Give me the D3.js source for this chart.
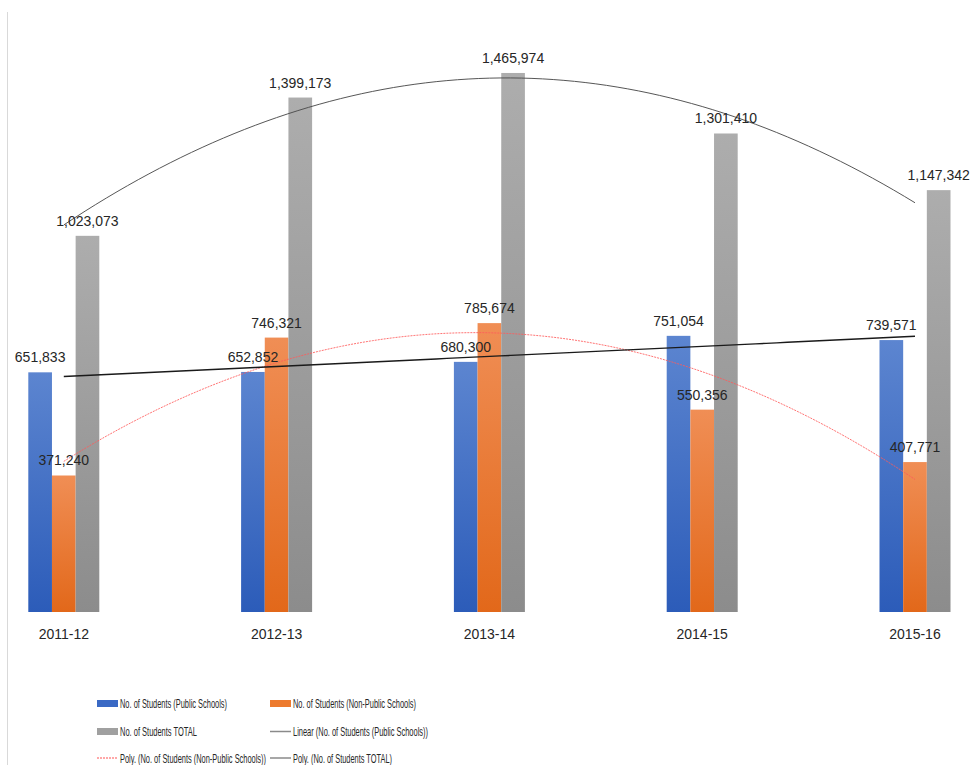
<!DOCTYPE html>
<html>
<head>
<meta charset="utf-8">
<script src="https://cdn.jsdelivr.net/npm/d3@7"></script>
<style>
  html, body { margin: 0; padding: 0; background: #fff; }
  svg { display: block; }
  text { font-family: "Liberation Sans", Arial, sans-serif; fill: #262626; }
</style>
</head>
<body>
<svg id="chart" width="972" height="765"></svg>
<script>
// School years on the category axis
const years = ["2011-12", "2012-13", "2013-14", "2014-15", "2015-16"];
// Enrolment per school year
const publicStudents    = [651833, 652852, 680300, 751054, 739571];
const nonPublicStudents = [371240, 746321, 785674, 550356, 407771];
const totalStudents     = [1023073, 1399173, 1465974, 1301410, 1147342];

const seriesNames = [
  "No. of Students (Public Schools)",
  "No. of Students (Non-Public Schools)",
  "No. of Students TOTAL"
];
const trendNames = [
  "Linear (No. of Students (Public Schools))",
  "Poly. (No. of Students (Non-Public Schools))",
  "Poly. (No. of Students TOTAL)"
];

const svg = d3.select("#chart");
const W = 972, H = 765;

// thin frame line on the left edge
svg.append("line")
  .attr("x1", 7.5).attr("x2", 7.5).attr("y1", 12).attr("y2", H)
  .attr("stroke", "#d9d9d9").attr("stroke-width", 1);

// scales
const x = d3.scalePoint().domain(years).range([63.8, 915]);
const xi = d3.scaleLinear().domain([0, years.length - 1]).range([63.8, 915]);
const inner = d3.scaleBand().domain([0, 1, 2]).range([-35.5, 35.5]);
const y = d3.scaleLinear().domain([0, 1600000]).range([612, 23.7]);

// bar gradients
const defs = svg.append("defs");
const grads = [
  { id: "gBlue",   top: "#5c85d0", bottom: "#2c5cb9" },
  { id: "gOrange", top: "#f08e55", bottom: "#e2681a" },
  { id: "gGray",   top: "#adadad", bottom: "#8c8c8c" }
];
grads.forEach(g => {
  const lg = defs.append("linearGradient").attr("id", g.id)
    .attr("x1", 0).attr("y1", 0).attr("x2", 0).attr("y2", 1);
  lg.append("stop").attr("offset", "0%").attr("stop-color", g.top);
  lg.append("stop").attr("offset", "100%").attr("stop-color", g.bottom);
});

const seriesValues = [publicStudents, nonPublicStudents, totalStudents];
const rows = years.map((yr, i) => ({ yr, vals: seriesValues.map(s => s[i]) }));

const fmt = d3.format(",");

const groups = svg.append("g").selectAll("g").data(rows).join("g")
  .attr("transform", d => `translate(${x(d.yr)},0)`);

groups.selectAll("rect").data(d => d.vals.map((v, k) => ({ v, k }))).join("rect")
  .attr("x", d => inner(d.k))
  .attr("width", inner.bandwidth())
  .attr("y", d => y(d.v))
  .attr("height", d => y(0) - y(d.v))
  .attr("fill", d => `url(#${grads[d.k].id})`);

// category labels
svg.append("g").selectAll("text").data(years).join("text")
  .attr("x", d => x(d)).attr("y", 639)
  .attr("text-anchor", "middle")
  .attr("font-size", 14)
  .text(d => d);

// trend lines: least squares on x = 0..4
function polyFit(vals, degree) {
  const n = vals.length;
  const xs = vals.map((_, i) => i);
  const m = degree + 1;
  const A = Array.from({ length: m }, () => new Array(m).fill(0));
  const b = new Array(m).fill(0);
  for (let i = 0; i < n; i++) {
    for (let r = 0; r < m; r++) {
      b[r] += vals[i] * Math.pow(xs[i], r);
      for (let c = 0; c < m; c++) A[r][c] += Math.pow(xs[i], r + c);
    }
  }
  for (let p = 0; p < m; p++) {
    for (let r = p + 1; r < m; r++) {
      const f = A[r][p] / A[p][p];
      for (let c = p; c < m; c++) A[r][c] -= f * A[p][c];
      b[r] -= f * b[p];
    }
  }
  const coef = new Array(m).fill(0);
  for (let r = m - 1; r >= 0; r--) {
    let s = b[r];
    for (let c = r + 1; c < m; c++) s -= A[r][c] * coef[c];
    coef[r] = s / A[r][r];
  }
  return t => coef.reduce((acc, c, k) => acc + c * Math.pow(t, k), 0);
}

const samples = d3.range(0, 4.0001, 0.05);
const line = d3.line().x(d => xi(d[0])).y(d => y(d[1]));

const trends = [
  { fn: polyFit(totalStudents, 2), stroke: "#4d4d4d", width: 1, dash: null, opacity: 0.95 },
  { fn: polyFit(nonPublicStudents, 2), stroke: "#ff5a5a", width: 1, dash: "2,1", opacity: 0.85 },
  { fn: polyFit(publicStudents, 1), stroke: "#1a1a1a", width: 1.4, dash: null, opacity: 1 }
];
trends.forEach(t => {
  svg.append("path")
    .datum(samples.map(s => [s, t.fn(s)]))
    .attr("d", line)
    .attr("fill", "none")
    .attr("stroke", t.stroke)
    .attr("stroke-width", t.width)
    .attr("stroke-dasharray", t.dash)
    .attr("opacity", t.opacity);
});

// value labels above bars
const labels = [];
rows.forEach(r => r.vals.forEach((v, k) => labels.push({ yr: r.yr, v, k })));
svg.append("g").selectAll("text").data(labels).join("text")
  .attr("x", d => x(d.yr) + inner(d.k) + inner.bandwidth() / 2)
  .attr("y", d => y(d.v) - 10)
  .attr("text-anchor", "middle")
  .attr("font-size", 14)
  .text(d => fmt(d.v));

// legend
const legendItems = [
  { name: seriesNames[0], type: "rect", color: "#3a69c4", col: 0, row: 0, w: 107 },
  { name: seriesNames[1], type: "rect", color: "#ed7a2e", col: 1, row: 0, w: 123 },
  { name: seriesNames[2], type: "rect", color: "#a0a0a0", col: 0, row: 1, w: 77 },
  { name: trendNames[0], type: "line", color: "#8a8a8a", dash: null, col: 1, row: 1, w: 135 },
  { name: trendNames[1], type: "line", color: "#ff8c8c", dash: "2,1", col: 0, row: 2, w: 146 },
  { name: trendNames[2], type: "line", color: "#8a8a8a", dash: null, col: 1, row: 2, w: 99 }
];
const colX = [97, 270];
const rowY = [703.5, 731.5, 758];
const lg = svg.append("g");
legendItems.forEach(it => {
  const x0 = colX[it.col], cy = rowY[it.row];
  if (it.type === "rect") {
    lg.append("rect").attr("x", x0).attr("y", cy - 3.5).attr("width", 21).attr("height", 7)
      .attr("fill", it.color);
  } else {
    lg.append("line").attr("x1", x0).attr("x2", x0 + 21).attr("y1", cy).attr("y2", cy)
      .attr("stroke", it.color).attr("stroke-width", 1.5)
      .attr("stroke-dasharray", it.dash);
  }
  lg.append("text").attr("x", x0 + 23).attr("y", cy + 4.5)
    .attr("font-size", 13)
    .attr("textLength", it.w).attr("lengthAdjust", "spacingAndGlyphs")
    .text(it.name);
});
</script>
</body>
</html>
